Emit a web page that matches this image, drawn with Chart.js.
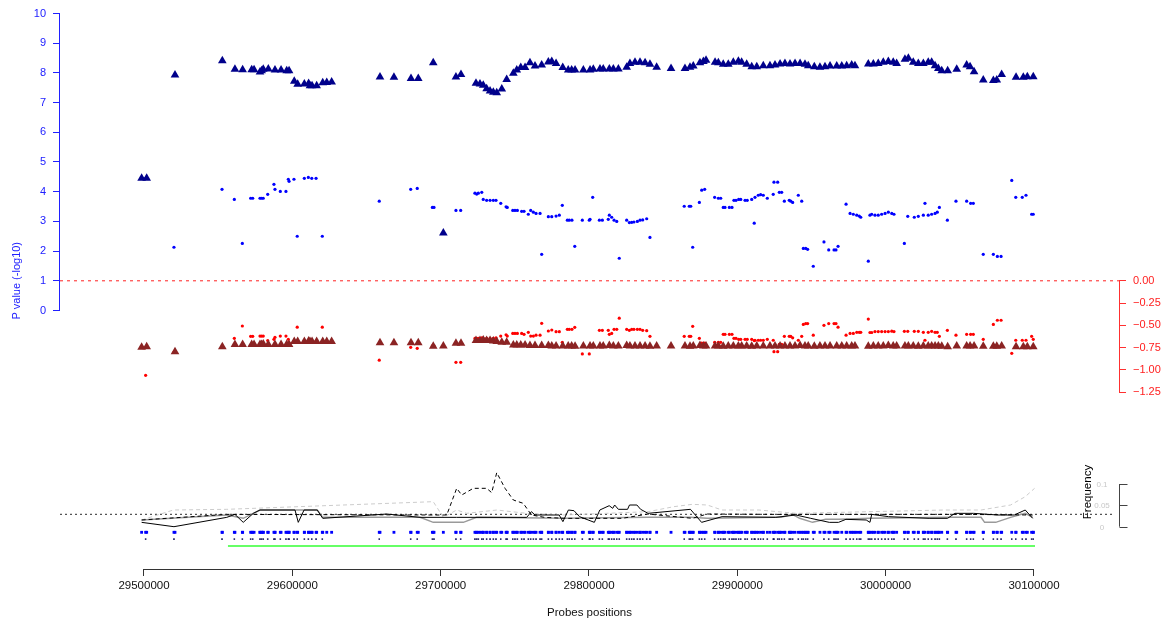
<!DOCTYPE html>
<html>
<head>
<meta charset="utf-8">
<script src="https://cdn.jsdelivr.net/npm/chart.js@4.4.1/dist/chart.umd.min.js"></script>
<style>
  html, body { margin: 0; padding: 0; background: #fff; }
  #wrap { width: 1176px; height: 626px; }
</style>
</head>
<body>
<div id="wrap"><canvas id="graphe" width="1176" height="626"></canvas></div>
<script>
// Positions des sondes (kb) et valeurs
const triPos = [29498.4, 29501.8, 29520.9, 29552.8, 29561.3, 29566.5, 29572.6, 29574.2, 29578.2, 29579.3,
  29580.4, 29583.8, 29588.3, 29592.4, 29596.2, 29597.8, 29601.3, 29603.6, 29608.1, 29611.0,
  29611.9, 29613.3, 29616.4, 29620.5, 29623.2, 29626.5, 29659.1, 29668.5, 29680.0, 29684.9,
  29695.0, 29701.8, 29710.3, 29713.7, 29723.8, 29726.5, 29728.7, 29731.0, 29733.3, 29735.5,
  29737.8, 29741.2, 29744.5, 29749.0, 29751.3, 29754.0, 29756.9, 29760.2, 29763.6, 29768.1,
  29772.6, 29774.9, 29777.8, 29782.3, 29786.0, 29788.3, 29790.6, 29796.2, 29800.7, 29802.9,
  29807.4, 29809.6, 29813.7, 29816.4, 29819.8, 29825.4, 29827.6, 29831.0, 29834.4, 29837.8,
  29841.1, 29845.6, 29855.3, 29864.7, 29868.1, 29870.3, 29874.8, 29877.1, 29878.9, 29885.0,
  29887.2, 29890.5, 29893.9, 29897.3, 29900.7, 29902.9, 29906.3, 29909.7, 29913.1, 29917.5,
  29922.0, 29925.4, 29928.8, 29932.1, 29935.5, 29938.9, 29942.3, 29945.6, 29947.8, 29951.9,
  29955.7, 29959.1, 29962.5, 29967.0, 29970.4, 29973.7, 29977.1, 29979.3, 29988.3, 29991.7,
  29995.0, 29998.4, 30001.8, 30005.1, 30007.4, 30013.0, 30015.3, 30018.6, 30022.0, 30025.4,
  30028.7, 30031.0, 30033.3, 30035.5, 30037.8, 30041.8, 30047.9, 30054.6, 30056.9, 30059.6,
  30065.8, 30072.6, 30074.9, 30078.2, 30087.9, 30092.8, 30095.5, 30099.5];

const triPval = [4.45, 4.45, 7.93, 8.41, 8.12, 8.11, 8.11, 8.11, 8.03, 8.07,
  8.12, 8.13, 8.10, 8.10, 8.07, 8.07, 7.72, 7.62, 7.63, 7.64,
  7.57, 7.57, 7.57, 7.67, 7.68, 7.69, 7.86, 7.85, 7.81, 7.81,
  8.34, 2.61, 7.86, 7.95, 7.65, 7.63, 7.58, 7.47, 7.39, 7.35,
  7.33, 7.46, 7.78, 7.99, 8.10, 8.18, 8.18, 8.34, 8.23, 8.27,
  8.37, 8.38, 8.32, 8.18, 8.10, 8.10, 8.10, 8.10, 8.10, 8.12,
  8.13, 8.13, 8.13, 8.13, 8.13, 8.19, 8.32, 8.36, 8.36, 8.34,
  8.29, 8.19, 8.15, 8.15, 8.19, 8.23, 8.34, 8.38, 8.43, 8.36,
  8.34, 8.29, 8.29, 8.36, 8.39, 8.36, 8.29, 8.21, 8.21, 8.24,
  8.24, 8.27, 8.30, 8.32, 8.30, 8.32, 8.32, 8.29, 8.24, 8.21,
  8.19, 8.21, 8.23, 8.23, 8.23, 8.24, 8.27, 8.24, 8.30, 8.30,
  8.32, 8.36, 8.38, 8.36, 8.32, 8.46, 8.49, 8.36, 8.32, 8.32,
  8.36, 8.36, 8.24, 8.15, 8.07, 8.07, 8.12, 8.27, 8.21, 8.04,
  7.76, 7.74, 7.76, 7.95, 7.85, 7.85, 7.87, 7.87];

const triEffect = [-0.745, -0.74, -0.795, -0.74, -0.715, -0.715, -0.715, -0.715, -0.715, -0.715,
  -0.71, -0.715, -0.715, -0.715, -0.715, -0.715, -0.68, -0.68, -0.68, -0.675,
  -0.68, -0.68, -0.68, -0.68, -0.68, -0.68, -0.695, -0.695, -0.695, -0.695,
  -0.735, -0.73, -0.70, -0.70, -0.67, -0.67, -0.665, -0.67, -0.67, -0.675,
  -0.68, -0.69, -0.69, -0.72, -0.72, -0.72, -0.72, -0.725, -0.725, -0.725,
  -0.725, -0.73, -0.73, -0.73, -0.73, -0.73, -0.735, -0.73, -0.73, -0.73,
  -0.73, -0.73, -0.725, -0.73, -0.73, -0.725, -0.73, -0.73, -0.73, -0.73,
  -0.735, -0.73, -0.73, -0.73, -0.735, -0.73, -0.725, -0.73, -0.73, -0.73,
  -0.73, -0.735, -0.73, -0.73, -0.73, -0.73, -0.73, -0.735, -0.73, -0.73,
  -0.73, -0.73, -0.73, -0.73, -0.73, -0.73, -0.725, -0.73, -0.73, -0.735,
  -0.73, -0.73, -0.73, -0.73, -0.73, -0.73, -0.73, -0.73, -0.735, -0.73,
  -0.73, -0.73, -0.725, -0.73, -0.73, -0.73, -0.73, -0.73, -0.735, -0.73,
  -0.73, -0.73, -0.73, -0.73, -0.735, -0.74, -0.73, -0.73, -0.73, -0.73,
  -0.735, -0.735, -0.735, -0.73, -0.74, -0.74, -0.74, -0.74];

const dotPos = [29501.1, 29520.2, 29552.6, 29560.9, 29566.3, 29571.9, 29573.3, 29578.2, 29579.3, 29580.4,
  29583.4, 29587.6, 29588.3, 29591.9, 29595.7, 29597.3, 29597.8, 29601.1, 29603.3, 29608.1,
  29610.8, 29613.1, 29616.0, 29620.2, 29658.6, 29679.8, 29684.2, 29694.4, 29695.5, 29710.3,
  29713.5, 29723.1, 29724.3, 29725.4, 29727.7, 29728.7, 29731.0, 29733.3, 29735.5, 29737.3,
  29740.5, 29744.1, 29744.9, 29748.6, 29750.1, 29751.7, 29754.6, 29756.2, 29759.1, 29760.7,
  29762.5, 29764.3, 29767.0, 29768.1, 29772.6, 29774.9, 29777.8, 29780.0, 29782.0, 29785.4,
  29786.7, 29788.5, 29790.4, 29795.5, 29800.2, 29800.7, 29802.5, 29807.0, 29809.0, 29813.0,
  29813.7, 29815.3, 29816.9, 29818.7, 29820.4, 29825.4, 29827.2, 29828.8, 29830.3, 29832.6,
  29834.4, 29836.2, 29838.9, 29841.1, 29864.2, 29867.6, 29868.6, 29869.9, 29874.4, 29876.0,
  29878.0, 29884.7, 29887.2, 29888.8, 29890.5, 29891.7, 29894.6, 29896.4, 29897.7, 29899.1,
  29900.9, 29902.3, 29905.2, 29906.7, 29909.7, 29911.4, 29911.9, 29914.1, 29915.7, 29917.5,
  29920.2, 29924.2, 29924.7, 29927.2, 29928.3, 29929.9, 29931.7, 29935.0, 29936.0, 29937.3,
  29941.1, 29943.4, 29944.5, 29946.1, 29947.4, 29951.2, 29958.4, 29961.6, 29965.2, 29966.5,
  29967.9, 29973.3, 29976.0, 29978.2, 29980.5, 29982.2, 29983.2, 29988.3, 29989.4, 29990.6,
  29992.8, 29995.0, 29997.3, 29999.6, 30001.8, 30004.1, 30005.6, 30012.6, 30014.9, 30019.3,
  30022.0, 30025.4, 30026.5, 30028.7, 30031.0, 30033.3, 30034.8, 30036.2, 30041.6, 30047.4,
  30054.6, 30057.3, 30059.1, 30065.8, 30072.6, 30075.3, 30077.8, 30085.0, 30087.7, 30092.1,
  30094.6, 30098.4, 30099.5];

const dotPval = [4.45, 2.13, 4.08, 3.74, 2.26, 3.78, 3.78, 3.78, 3.78, 3.78,
  3.91, 4.25, 4.08, 4.01, 4.01, 4.42, 4.35, 4.42, 2.50, 4.45,
  4.48, 4.45, 4.45, 2.50, 3.68, 4.08, 4.11, 3.47, 3.47, 3.37,
  3.37, 3.95, 3.92, 3.95, 3.98, 3.74, 3.71, 3.71, 3.71, 3.71,
  3.61, 3.49, 3.47, 3.37, 3.37, 3.37, 3.34, 3.34, 3.24, 3.37,
  3.31, 3.27, 3.27, 1.89, 3.16, 3.16, 3.18, 3.21, 3.54, 3.04,
  3.04, 3.04, 2.16, 3.04, 3.04, 3.07, 3.81, 3.04, 3.04, 3.07,
  3.21, 3.14, 3.04, 3.00, 1.76, 3.04, 2.96, 2.97, 2.98, 3.00,
  3.04, 3.05, 3.09, 2.46, 3.51, 3.51, 3.51, 2.13, 3.64, 4.05,
  4.08, 3.81, 3.78, 3.78, 3.47, 3.47, 3.47, 3.47, 3.71, 3.71,
  3.74, 3.74, 3.71, 3.71, 3.74, 2.94, 3.81, 3.88, 3.90, 3.88,
  3.78, 3.91, 4.32, 4.32, 3.98, 3.98, 3.68, 3.71, 3.68, 3.64,
  3.88, 3.68, 2.09, 2.09, 2.06, 1.49, 2.31, 2.04, 2.04, 2.04,
  2.16, 3.58, 3.27, 3.24, 3.21, 3.18, 3.14, 1.66, 3.21, 3.24,
  3.21, 3.21, 3.24, 3.27, 3.31, 3.27, 3.24, 2.26, 3.17, 3.14,
  3.17, 3.21, 3.61, 3.21, 3.24, 3.27, 3.31, 3.47, 3.04, 3.68,
  3.68, 3.61, 3.61, 1.89, 1.89, 1.82, 1.82, 4.38, 3.81, 3.81,
  3.88, 3.24, 3.24];

const dotEffect = [-1.06, -0.80, -0.74, -0.645, -0.507, -0.623, -0.623, -0.62, -0.62, -0.62,
  -0.67, -0.656, -0.634, -0.62, -0.62, -0.656, -0.70, -0.68, -0.52, -0.68,
  -0.68, -0.68, -0.68, -0.52, -0.89, -0.746, -0.757, -0.73, -0.73, -0.914,
  -0.914, -0.646, -0.646, -0.646, -0.64, -0.645, -0.645, -0.645, -0.645, -0.64,
  -0.62, -0.605, -0.62, -0.59, -0.59, -0.59, -0.59, -0.60, -0.578, -0.62,
  -0.62, -0.61, -0.61, -0.477, -0.563, -0.552, -0.571, -0.571, -0.69, -0.545,
  -0.545, -0.545, -0.522, -0.82, -0.82, -0.72, -0.72, -0.556, -0.556, -0.556,
  -0.60, -0.59, -0.545, -0.545, -0.42, -0.545, -0.556, -0.545, -0.545, -0.545,
  -0.545, -0.556, -0.56, -0.623, -0.623, -0.623, -0.623, -0.511, -0.645, -0.70,
  -0.70, -0.69, -0.69, -0.69, -0.60, -0.60, -0.60, -0.60, -0.645, -0.645,
  -0.656, -0.656, -0.656, -0.656, -0.656, -0.67, -0.667, -0.667, -0.667, -0.667,
  -0.656, -0.667, -0.795, -0.795, -0.713, -0.713, -0.623, -0.623, -0.623, -0.64,
  -0.667, -0.623, -0.49, -0.48, -0.48, -0.61, -0.50, -0.48, -0.48, -0.48,
  -0.52, -0.61, -0.59, -0.59, -0.578, -0.578, -0.578, -0.43, -0.58, -0.58,
  -0.57, -0.57, -0.57, -0.57, -0.57, -0.565, -0.57, -0.567, -0.567, -0.567,
  -0.567, -0.578, -0.667, -0.578, -0.567, -0.578, -0.578, -0.623, -0.556, -0.61,
  -0.60, -0.60, -0.60, -0.656, -0.49, -0.443, -0.443, -0.813, -0.667, -0.667,
  -0.667, -0.623, -0.656];

// Fréquences (kb, fréquence)
const freqBlack = [[29498.4, 0.0102], [29520.2, 0.0], [29555.8, 0.0219], [29561.3, 0.0289], [29566.9, 0.0102],
  [29573.7, 0.0313], [29578.2, 0.0391], [29601.8, 0.0391], [29604.0, 0.0102], [29607.9, 0.0391],
  [29616.8, 0.0391], [29620.5, 0.0196], [29663.6, 0.0297], [29686.1, 0.0219], [29710.8, 0.0219],
  [29740.0, 0.0219], [29758.0, 0.0219], [29761.2, 0.0352], [29763.6, 0.0274], [29779.9, 0.0274],
  [29782.4, 0.0118], [29786.1, 0.0391], [29789.9, 0.0375], [29793.6, 0.0235], [29803.6, 0.0102],
  [29807.3, 0.0391], [29813.6, 0.0492], [29816.0, 0.043], [29817.3, 0.0508], [29819.8, 0.0407],
  [29826.0, 0.0407], [29827.3, 0.0508], [29832.3, 0.0508], [29834.8, 0.0407], [29839.8, 0.0313],
  [29868.4, 0.0407], [29875.9, 0.0102], [29889.7, 0.0235], [29925.8, 0.0219], [29939.5, 0.0274],
  [29949.5, 0.0196], [29962.0, 0.0102], [29968.2, 0.0102], [29973.2, 0.0172], [29986.9, 0.0157],
  [29989.4, 0.0102], [29990.6, 0.0289], [30001.9, 0.0235], [30029.3, 0.0196], [30041.7, 0.0196],
  [30046.7, 0.0313], [30059.2, 0.0313], [30075.5, 0.0274], [30086.7, 0.0274], [30094.1, 0.0391],
  [30099.1, 0.0196]];

const freqBlackDash = [[29498.4, 0.0157], [29555.8, 0.0289], [29695.0, 0.0274], [29704.1, 0.0274],
  [29710.8, 0.0899], [29714.2, 0.0742], [29722.0, 0.0899], [29731.0, 0.0899], [29734.4, 0.0797],
  [29737.8, 0.1265], [29743.4, 0.0899], [29749.0, 0.0625], [29755.7, 0.0547], [29761.2, 0.0274],
  [29769.9, 0.0219], [29783.6, 0.0196], [29822.3, 0.0196], [29839.8, 0.0297], [29869.7, 0.0196],
  [29879.7, 0.0297], [29925.0, 0.0289], [29990.0, 0.0289], [30050.0, 0.0289], [30099.1, 0.0274]];

const freqGrey = [[29498.4, 0.0157], [29555.8, 0.0274], [29566.9, 0.0196], [29573.7, 0.0313], [29578.2, 0.0391],
  [29601.8, 0.0391], [29607.9, 0.0391], [29616.8, 0.0391], [29620.5, 0.0219], [29686.1, 0.0219],
  [29695.0, 0.0102], [29715.3, 0.0102], [29724.3, 0.0219], [29783.6, 0.0196], [29839.8, 0.0219],
  [29868.4, 0.0219], [29879.7, 0.0196], [29924.6, 0.0219], [29929.6, 0.0219], [29937.1, 0.0289],
  [29942.0, 0.0196], [29950.7, 0.0102], [29959.5, 0.0172], [29968.2, 0.0172], [29989.4, 0.0196],
  [30044.2, 0.0219], [30064.3, 0.0219], [30066.7, 0.0102], [30074.2, 0.0102], [30084.2, 0.0219],
  [30094.1, 0.0313], [30099.1, 0.0219]];

const freqGreyDash = [[29498.4, 0.0157], [29519.8, 0.0391], [29555.8, 0.0407], [29695.0, 0.0586],
  [29701.8, 0.0219], [29710.8, 0.0391], [29717.6, 0.0313], [29737.8, 0.0391], [29758.0, 0.0313],
  [29783.6, 0.0274], [29839.8, 0.0352], [29857.2, 0.0469], [29869.7, 0.0524], [29879.7, 0.0508],
  [29889.7, 0.0391], [29914.6, 0.0391], [29939.5, 0.0313], [30039.3, 0.0391], [30064.3, 0.0391],
  [30084.2, 0.0508], [30094.1, 0.0703], [30100.4, 0.0899]];

const geneRegion = [29556.6, 30100.7];
const freqThreshold = 0.029;
const pvalThreshold = 1;

const xTicks = [29500000, 29600000, 29700000, 29800000, 29900000, 30000000, 30100000];
const pTicks = [0, 1, 2, 3, 4, 5, 6, 7, 8, 9, 10];
const effTicks = [0, -0.25, -0.5, -0.75, -1, -1.25];
const freqTicks = [0, 0.05, 0.1];

// placement : zone de tracé entre y=5 et y=569
const AREA_TOP = 5, AREA_BOTTOM = 569;
function span(v0, px0, pxPerUnit) {
  return { min: v0 - (AREA_BOTTOM - px0) / pxPerUnit, max: v0 + (px0 - AREA_TOP) / pxPerUnit };
}
const pRange = span(0, 310.5, 29.7);
const effRange = span(0, 280.7, 89.3);
const freqRange = span(0, 526.7, 427);
const trackRange = span(0, 532.3, 6.8);

const bp = kb => Math.round(kb * 1000);
const pts = (pos, vals) => pos.map((p, i) => ({ x: bp(p), y: vals[i] }));
const pairs = arr => arr.map(d => ({ x: bp(d[0]), y: d[1] }));
const X_MIN = 29443371, X_MAX = 30157304;
const FONT = "'Liberation Sans', Arial, sans-serif";

// pas de marge automatique autour des axes
function noPad(s) {
  s.paddingTop = 0; s.paddingBottom = 0; s.paddingLeft = 0; s.paddingRight = 0;
}

const axesR = {
  id: 'axesR',
  afterDraw(chart) {
    const { ctx, chartArea: a, scales } = chart;
    const sx = scales.x, sp = scales.yP, se = scales.yE, sf = scales.yF;
    const seg = (x1, y1, x2, y2, col) => {
      ctx.strokeStyle = col;
      ctx.beginPath();
      ctx.moveTo(x1, y1);
      ctx.lineTo(x2, y2);
      ctx.stroke();
    };
    ctx.save();
    ctx.lineWidth = 1;
    const yb = Math.round(a.bottom) + 0.5;
    seg(sx.getPixelForValue(xTicks[0]), yb, sx.getPixelForValue(xTicks[xTicks.length - 1]), yb, '#333');
    const xl = Math.round(a.left) - 0.5;
    seg(xl, sp.getPixelForValue(0), xl, sp.getPixelForValue(10), '#2020ff');
    const xr = Math.round(a.right) + 0.5;
    seg(xr, se.getPixelForValue(0), xr, se.getPixelForValue(-1.25), '#ff3030');

    // petit axe des fréquences
    seg(xr, sf.getPixelForValue(0), xr, sf.getPixelForValue(0.1), '#444');
    ctx.font = '8px ' + FONT;
    ctx.textAlign = 'center';
    ctx.textBaseline = 'middle';
    freqTicks.forEach(t => {
      const y = Math.round(sf.getPixelForValue(t)) + 0.5;
      seg(xr, y, xr + 8, y, '#444');
      ctx.fillStyle = '#c8c8c8';
      ctx.fillText(String(t), 1102, y);
    });

    // titres verticaux
    ctx.fillStyle = '#2020ff';
    ctx.font = '11px ' + FONT;
    ctx.translate(17, sp.getPixelForValue(pvalThreshold));
    ctx.rotate(-Math.PI / 2);
    ctx.fillText('P value (-log10)', 0, 0);
    ctx.setTransform(1, 0, 0, 1, 0, 0);
    ctx.fillStyle = '#000';
    ctx.font = '11.5px ' + FONT;
    ctx.translate(1088, 492);
    ctx.rotate(-Math.PI / 2);
    ctx.fillText('Frequency', 0, 0);
    ctx.restore();
  }
};

const allProbes = triPos.concat(dotPos);

new Chart(document.getElementById('graphe'), {
  type: 'scatter',
  data: {
    datasets: [
      { data: pts(triPos, triPval), yAxisID: 'yP', pointStyle: 'triangle', pointRadius: 5,
        backgroundColor: '#00008b', borderWidth: 0 },
      { data: pts(triPos, triEffect), yAxisID: 'yE', pointStyle: 'triangle', pointRadius: 5,
        backgroundColor: '#8b2323', borderWidth: 0 },
      { data: pts(dotPos, dotPval), yAxisID: 'yP', pointRadius: 1.6,
        backgroundColor: '#0000ff', borderWidth: 0 },
      { data: pts(dotPos, dotEffect), yAxisID: 'yE', pointRadius: 1.6,
        backgroundColor: '#ff0000', borderWidth: 0 },
      { data: [{ x: X_MIN, y: pvalThreshold }, { x: X_MAX, y: pvalThreshold }], yAxisID: 'yP',
        showLine: true, pointRadius: 0, borderColor: '#ff2020', borderWidth: 1, borderDash: [3, 4] },
      { data: pairs(freqBlack), yAxisID: 'yF', showLine: true, pointRadius: 0,
        borderColor: '#000', borderWidth: 1 },
      { data: pairs(freqBlackDash), yAxisID: 'yF', showLine: true, pointRadius: 0,
        borderColor: '#000', borderWidth: 1, borderDash: [4, 3] },
      { data: pairs(freqGrey), yAxisID: 'yF', showLine: true, pointRadius: 0,
        borderColor: '#9a9a9a', borderWidth: 1.5 },
      { data: pairs(freqGreyDash), yAxisID: 'yF', showLine: true, pointRadius: 0,
        borderColor: '#cccccc', borderWidth: 1, borderDash: [4, 3] },
      { data: [{ x: X_MIN, y: freqThreshold }, { x: 30154600, y: freqThreshold }], yAxisID: 'yF',
        showLine: true, pointRadius: 0, borderColor: '#555', borderWidth: 1.3, borderDash: [2, 3] },
      { data: allProbes.map(p => ({ x: bp(p), y: 0 })), yAxisID: 'yT', pointStyle: 'rect',
        pointRadius: 2, backgroundColor: '#0000ff', borderWidth: 0 },
      { data: dotPos.map(p => ({ x: bp(p), y: -1 })), yAxisID: 'yT', pointStyle: 'rect',
        pointRadius: 1.1, backgroundColor: '#10105a', borderWidth: 0 },
      { data: geneRegion.map(p => ({ x: bp(p), y: -2 })), yAxisID: 'yT', showLine: true,
        pointRadius: 0, borderColor: '#33ff33', borderWidth: 1.5 }
    ]
  },
  options: {
    responsive: false,
    devicePixelRatio: 1,
    animation: false,
    layout: { padding: { top: AREA_TOP, left: 0, right: 0, bottom: 0 } },
    plugins: { legend: { display: false }, tooltip: { enabled: false } },
    scales: {
      x: {
        type: 'linear', position: 'bottom', min: X_MIN, max: X_MAX, bounds: 'data',
        afterBuildTicks: s => { s.ticks = xTicks.map(v => ({ value: v })); },
        afterFit: s => { s.height = 626 - AREA_BOTTOM; noPad(s); },
        border: { display: false },
        grid: { drawOnChartArea: false, tickLength: 7, color: '#333' },
        ticks: { color: '#111', font: { family: FONT, size: 11.5 }, padding: 3,
          maxRotation: 0, autoSkip: false, callback: v => String(v) },
        title: { display: true, text: 'Probes positions', color: '#111',
          font: { family: FONT, size: 11.5 }, padding: { top: 0, bottom: 6 } }
      },
      yP: {
        type: 'linear', position: 'left', min: pRange.min, max: pRange.max, bounds: 'data',
        afterBuildTicks: s => { s.ticks = pTicks.map(v => ({ value: v })); },
        afterFit: s => { s.width = 60; noPad(s); },
        border: { display: false },
        grid: { drawOnChartArea: false, tickLength: 7, color: '#2020ff' },
        ticks: { color: '#2020ff', font: { family: FONT, size: 11 }, padding: 7,
          callback: v => String(v) }
      },
      yE: {
        type: 'linear', position: 'right', min: effRange.min, max: effRange.max, bounds: 'data',
        afterBuildTicks: s => { s.ticks = effTicks.map(v => ({ value: v })); },
        afterFit: s => { s.width = 1176 - 1119; noPad(s); },
        border: { display: false },
        grid: { drawOnChartArea: false, tickLength: 7, color: '#ff3030' },
        ticks: { color: '#ff2020', font: { family: FONT, size: 11 }, padding: 7,
          callback: v => (v === 0 ? '0.00' : '\u2212' + Math.abs(v).toFixed(2)) }
      },
      yF: { type: 'linear', display: false, min: freqRange.min, max: freqRange.max },
      yT: { type: 'linear', display: false, min: trackRange.min, max: trackRange.max }
    }
  },
  plugins: [axesR]
});
</script>
</body>
</html>
